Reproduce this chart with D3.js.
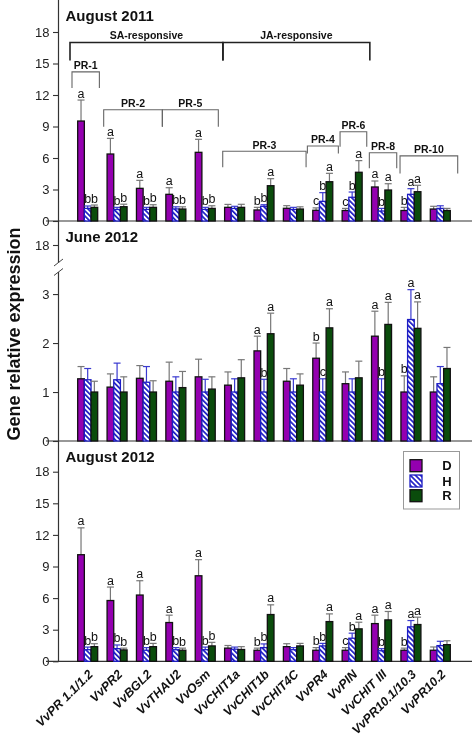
<!DOCTYPE html>
<html><head><meta charset="utf-8">
<script src="https://cdn.jsdelivr.net/npm/d3@7"></script>
<style>body{margin:0;background:#fff}svg{display:block;will-change:transform}text{font-family:"Liberation Sans",Arial,sans-serif}</style>
</head><body><svg id="c" width="472" height="735"></svg>
<script>
const categories=["VvPR 1.1/1.2","VvPR2","VvBGL2","VvTHAU2","VvOsm","VvCHIT1a","VvCHIT1b","VvCHIT4C","VvPR4","VvPIN","VvCHIT III","VvPR10.1/10.3","VvPR10.2"];
const series=["D","H","R"];
const panelTitles=["August 2011","June 2012","August 2012"];
const yTicksAug=[0,3,6,9,12,15,18];
const yTicksJune=[0,1,2,3];
const yTicksJuneUpper=[18];

// August 2011
const aug11D=[9.52,6.38,3.11,2.54,6.54,1.3,1.05,1.21,1.02,1.0,3.24,1.0,1.14];
const aug11Derr=[2.0,1.49,0.76,0.63,1.24,0.28,0.25,0.25,0.23,0.2,0.57,0.3,0.26];
const aug11H=[1.2,1.1,1.1,1.15,1.1,1.2,1.4,1.1,1.87,2.26,0.95,2.54,1.2];
const aug11Herr=[0.23,0.2,0.2,0.2,0.2,0.2,0.15,0.2,0.83,0.5,0.25,0.54,0.25];
const aug11R=[1.3,1.36,1.3,1.14,1.2,1.3,3.36,1.14,3.74,4.64,2.95,2.79,1.0];
const aug11Rerr=[0.22,0.24,0.25,0.21,0.25,0.29,0.67,0.21,0.8,1.11,0.6,0.61,0.2];
const aug11LetD=["a","a","a","a","a","","b","","c","c","a","b",""];
const aug11LetH=["b","b","b","b","b","","b","","b","b","b","a",""];
const aug11LetR=["b","b","b","b","b","","a","","a","a","a","a",""];

// June 2012
const jun12D=[1.27,1.1,1.28,1.22,1.31,1.14,1.84,1.22,1.69,1.17,2.14,1.0,1.0];
const jun12Derr=[0.25,0.27,0.26,0.39,0.36,0.27,0.30,0.26,0.31,0.24,0.51,0.33,0.31];
const jun12H=[1.25,1.25,1.2,1.0,1.0,1.0,1.0,1.0,1.0,1.0,1.0,2.48,1.17];
const jun12Herr=[0.23,0.34,0.32,0.31,0.26,0.27,0.26,0.27,0.27,0.27,0.27,0.61,0.35];
const jun12R=[1.0,1.0,1.0,1.09,1.06,1.29,2.19,1.14,2.31,1.29,2.38,2.3,1.48];
const jun12Rerr=[0.22,0.31,0.23,0.33,0.25,0.37,0.42,0.23,0.39,0.34,0.45,0.54,0.43];
const jun12LetD=["","","","","","","a","","b","","a","b",""];
const jun12LetH=["","","","","","","b","","c","","b","a",""];
const jun12LetR=["","","","","","","a","","a","","a","a",""];

// August 2012
const aug12D=[10.12,5.77,6.29,3.68,8.12,1.25,1.05,1.39,1.05,1.05,3.58,1.05,1.05];
const aug12Derr=[2.55,1.28,1.36,0.7,1.53,0.25,0.2,0.28,0.25,0.25,0.8,0.2,0.31];
const aug12H=[1.1,1.2,1.05,1.1,1.1,1.15,1.3,1.1,1.46,2.19,1.0,3.27,1.49];
const aug12Herr=[0.25,0.35,0.25,0.2,0.25,0.2,0.35,0.2,0.24,0.48,0.2,0.6,0.41];
const aug12R=[1.39,1.08,1.39,1.05,1.46,1.12,4.44,1.46,3.77,3.08,3.93,3.49,1.58];
const aug12Rerr=[0.28,0.17,0.31,0.2,0.34,0.27,0.92,0.24,0.73,0.63,0.8,0.7,0.37];
const aug12LetD=["a","a","a","a","a","","b","","b","c","a","b",""];
const aug12LetH=["b","b","b","b","b","","b","","b","b","b","a",""];
const aug12LetR=["b","b","b","b","b","","a","","a","a","a","a",""];

// Bracket annotations (August 2011 panel)
const bracketLabels=["SA-responsive","JA-responsive","PR-1","PR-2","PR-5","PR-3","PR-4","PR-6","PR-8","PR-10"];
const bracketStart=[0,5,0,1,3,5,8,9,10,11];
const bracketEnd=[4,9,0,2,4,7,8,9,10,12];
const bracketLevel=[17.0,17.0,14.2,10.6,10.6,6.65,7.15,8.5,6.5,6.2];

const svg=d3.select("#c");
const FONT='"Liberation Sans",Arial,sans-serif';
const colors={D:"#9400b0",H:"url(#hatch)",R:"#0a4c0c"};
const strokes={D:"#111",H:"#1c1cc4",R:"#111"};
const errColor={D:"#777",H:"#3a3ad0",R:"#777"};

const defs=svg.append("defs");
const pat=defs.append("pattern").attr("id","hatch").attr("patternUnits","userSpaceOnUse")
  .attr("width",3.6).attr("height",3.6).attr("patternTransform","rotate(-45)");
pat.append("rect").attr("width",3.6).attr("height",3.6).attr("fill","#fff");
pat.append("rect").attr("x",0).attr("width",1.7).attr("height",3.6).attr("fill","#1c1cc4");

const x=d3.scaleBand().domain(categories).range([73,455]).padding(0);
const xi=d3.scaleBand().domain(series).range([-10,10]).padding(0);
const cx=(c,s)=>x(c)+x.bandwidth()/2+xi(s)+xi.bandwidth()/2;

const panels=[
 {title:panelTitles[0],titleY:21,y:d3.scaleLinear().domain([0,21]).range([221,0.5]),ticks:yTicksAug,
  v:{D:aug11D,H:aug11H,R:aug11R},e:{D:aug11Derr,H:aug11Herr,R:aug11Rerr},l:{D:aug11LetD,H:aug11LetH,R:aug11LetR}},
 {title:panelTitles[1],titleY:242,y:d3.scaleLinear().domain([0,3.43]).range([441,273]),ticks:yTicksJune,
  upper:d3.scaleLinear().domain([16.5,18.5]).range([263,239]),
  v:{D:jun12D,H:jun12H,R:jun12R},e:{D:jun12Derr,H:jun12Herr,R:jun12Rerr},l:{D:jun12LetD,H:jun12LetH,R:jun12LetR}},
 {title:panelTitles[2],titleY:462,y:d3.scaleLinear().domain([0,18.95]).range([661.3,461.7]),ticks:yTicksAug,
  v:{D:aug12D,H:aug12H,R:aug12R},e:{D:aug12Derr,H:aug12Herr,R:aug12Rerr},l:{D:aug12LetD,H:aug12LetH,R:aug12LetR}}
];

const AX=58.5;
svg.append("line").attr("x1",AX).attr("x2",AX).attr("y1",0).attr("y2",263).attr("stroke","#333").attr("stroke-width",1.2);
svg.append("line").attr("x1",AX).attr("x2",AX).attr("y1",272).attr("y2",661.3).attr("stroke","#333").attr("stroke-width",1.2);
[[266,259],[275.5,268.5]].forEach(([a,b])=>{
  svg.append("line").attr("x1",54).attr("y1",a).attr("x2",63).attr("y2",b).attr("stroke","#444").attr("stroke-width",1);
});

panels.forEach(p=>{
  const y=p.y;
  const axis=d3.axisLeft(y).tickValues(p.ticks).tickSize(5.5).tickPadding(3.5).tickSizeOuter(0).tickFormat(d3.format("d"));
  const g=svg.append("g").attr("transform",`translate(${AX},0)`).call(axis);
  g.select(".domain").remove();
  g.selectAll("line").attr("stroke","#333").attr("stroke-width",1.1);
  g.selectAll("text").attr("font-family",FONT).attr("font-size",13).attr("fill","#222");
  if(p.upper){
    const gu=svg.append("g").attr("transform",`translate(${AX},0)`)
      .call(d3.axisLeft(p.upper).tickValues(yTicksJuneUpper).tickSize(5.5).tickPadding(3.5).tickSizeOuter(0).tickFormat(d3.format("d")));
    gu.select(".domain").remove();
    gu.selectAll("line").attr("stroke","#333").attr("stroke-width",1.1);
    gu.selectAll("text").attr("font-family",FONT).attr("font-size",13).attr("fill","#222");
  }
  svg.append("line").attr("x1",46).attr("x2",472).attr("y1",y(0)).attr("y2",y(0)).attr("stroke","#333").attr("stroke-width",1.2);
  svg.append("text").attr("x",65.5).attr("y",p.titleY).attr("font-size",15).attr("font-weight","bold").attr("fill","#111").text(p.title);
  series.forEach(s=>{
    const gs=svg.append("g");
    categories.forEach((c,i)=>{
      const v=p.v[s][i], e=p.e[s][i], px=cx(c,s);
      const top=y(v+e);
      gs.append("line").attr("x1",px).attr("x2",px).attr("y1",y(v)).attr("y2",top).attr("stroke",errColor[s]).attr("stroke-width",1.2);
      gs.append("line").attr("x1",px-3.5).attr("x2",px+3.5).attr("y1",top).attr("y2",top).attr("stroke",errColor[s]).attr("stroke-width",1.2);
      gs.append("rect").attr("x",x(c)+x.bandwidth()/2+xi(s)).attr("width",xi.bandwidth())
        .attr("y",y(v)).attr("height",y(0)-y(v)).attr("fill",colors[s]).attr("stroke",strokes[s]).attr("stroke-width",1.3);
      const L=p.l[s][i];
      if(L) svg.append("text").attr("x",px).attr("y",top-2.5).attr("text-anchor","middle").attr("font-size",12.5).attr("fill","#111").text(L);
    });
  });
});

const yTop=panels[0].y;
const edge=i=>x.range()[0]+i*x.step();
const bracketPadL=[-3,3,-1,1.3,1.2,2.8,-0.7,2.6,2.5,3.8];
const bracketPadR=[3,3,-3,1.2,-1.6,-2,0.9,-0.1,0.5,2.7];
const bracketDrop=[18,18,16,17,17,16,7.5,15,15.5,17.5];
bracketLabels.forEach((lab,k)=>{
  const x1=edge(bracketStart[k])+bracketPadL[k], x2=edge(bracketEnd[k]+1)+bracketPadR[k];
  const yy=yTop(bracketLevel[k]);
  const major=k<2;
  const col=major?"#222":"#666", sw=major?1.6:1.1;
  const path=d3.path();
  path.moveTo(x1,yy+bracketDrop[k]);path.lineTo(x1,yy);path.lineTo(x2,yy);path.lineTo(x2,yy+bracketDrop[k]);
  svg.append("path").attr("d",path.toString()).attr("fill","none").attr("stroke",col).attr("stroke-width",sw);
  svg.append("text").attr("x",(x1+x2)/2).attr("y",yy-(major?4:2.5)).attr("text-anchor","middle")
    .attr("font-size",10.5).attr("font-weight","bold").attr("fill","#111").text(lab);
});

categories.forEach(c=>{
  svg.append("text").attr("transform",`translate(${x(c)+x.bandwidth()/2+6},675) rotate(-45)`)
    .attr("text-anchor","end").attr("font-size",12.5).attr("font-weight","bold").attr("font-style","italic").attr("fill","#111").text(c);
});

svg.append("text").attr("transform","translate(19.5,334) rotate(-90)").attr("text-anchor","middle")
  .attr("font-size",18).attr("font-weight","bold").attr("fill","#111").text("Gene relative expression");

svg.append("rect").attr("x",403.5).attr("y",451.5).attr("width",56).attr("height",57.5).attr("fill","#fff").attr("stroke","#999").attr("stroke-width",1);
const legY=[465.7,481,495.7];
series.forEach((s,i)=>{
  svg.append("rect").attr("x",410).attr("y",legY[i]-6).attr("width",12).attr("height",12).attr("fill",colors[s]).attr("stroke",strokes[s]).attr("stroke-width",1.3);
  svg.append("text").attr("x",447).attr("y",legY[i]+4.5).attr("text-anchor","middle").attr("font-size",13).attr("font-weight","bold").attr("fill","#111").text(s);
});
</script></body></html>
